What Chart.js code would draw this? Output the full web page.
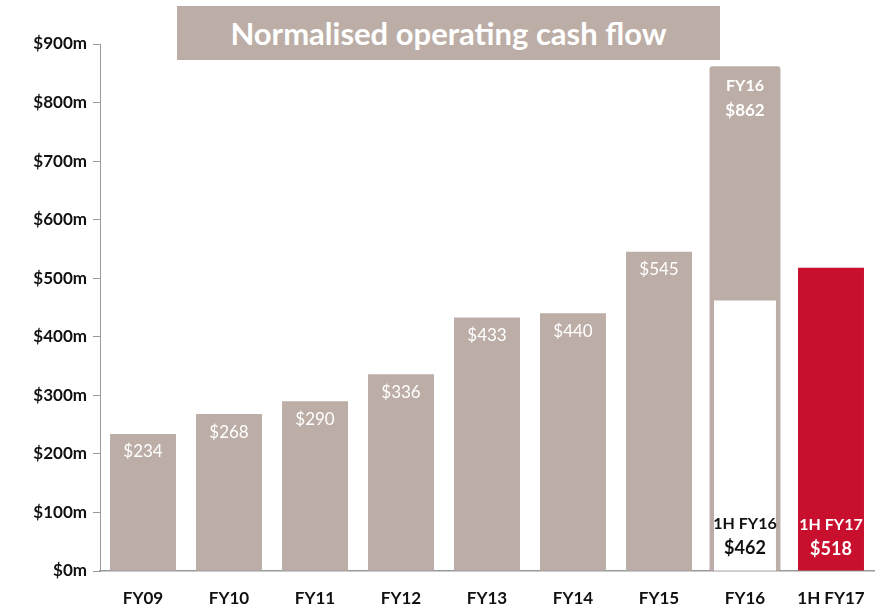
<!DOCTYPE html>
<html>
<head>
<meta charset="utf-8">
<script src="https://cdn.jsdelivr.net/npm/chart.js@4"></script>
<style>
  html, body { margin: 0; padding: 0; background: #fff; }
  .wrap { position: relative; width: 883px; height: 609px; }
  .title-box {
    position: absolute; left: 177px; top: 6px; width: 543px; height: 54px;
    background: #bcaea6; color: #fff; font: bold 31px Lato, sans-serif;
    display: flex; align-items: center; justify-content: center;
  }
</style>
</head>
<body>
<div class="wrap">
  <canvas id="cashChart" width="883" height="609"></canvas>
  <div class="title-box">Normalised operating cash flow</div>
</div>
<script>
// Normalised operating cash flow ($m)
const categories = ['FY09', 'FY10', 'FY11', 'FY12', 'FY13', 'FY14', 'FY15', 'FY16', '1H FY17'];
const annualValues = [234, 268, 290, 336, 433, 440, 545, null, 518];
const fy16Full = [null, null, null, null, null, null, null, 862, null];
const fy16Half = [null, null, null, null, null, null, null, 462, null];
const yTicks = [0, 100, 200, 300, 400, 500, 600, 700, 800, 900];

const GREY = '#bcaea6';
const RED = '#c8102e';
const FONT = 'Lato, sans-serif';

// bar labels drawn on top of the bars
const barLabels = {
  id: 'barLabels',
  afterDatasetsDraw(chart) {
    const ctx = chart.ctx;
    const bottom = chart.chartArea.bottom;
    ctx.save();
    ctx.textAlign = 'center';
    ctx.textBaseline = 'middle';

    // annual bars
    chart.getDatasetMeta(2).data.forEach((bar, i) => {
      const v = annualValues[i];
      if (v == null) return;
      if (categories[i] === '1H FY17') {
        ctx.fillStyle = '#fff';
        ctx.font = 'bold 16px ' + FONT;
        ctx.fillText('1H FY17', bar.x, bottom - 46);
        ctx.font = 'bold 18px ' + FONT;
        ctx.fillText('$' + v, bar.x, bottom - 22);
      } else {
        ctx.fillStyle = '#fff';
        ctx.font = '17px ' + FONT;
        ctx.fillText('$' + v, bar.x, bar.y + 18);
      }
    });

    // FY16 full year
    chart.getDatasetMeta(1).data.forEach((bar, i) => {
      if (fy16Full[i] == null) return;
      ctx.fillStyle = '#fff';
      ctx.font = 'bold 16px ' + FONT;
      ctx.fillText('FY16', bar.x, bar.y + 20);
      ctx.font = 'bold 17px ' + FONT;
      ctx.fillText('$' + fy16Full[i], bar.x, bar.y + 44);
    });

    // FY16 first half
    chart.getDatasetMeta(0).data.forEach((bar, i) => {
      if (fy16Half[i] == null) return;
      ctx.fillStyle = '#111';
      ctx.font = 'bold 16px ' + FONT;
      ctx.fillText('1H FY16', bar.x, bottom - 47);
      ctx.font = 'bold 18px ' + FONT;
      ctx.fillText('$' + fy16Half[i], bar.x, bottom - 23);
    });
    ctx.restore();
  }
};

new Chart(document.getElementById('cashChart'), {
  type: 'bar',
  data: {
    labels: categories,
    datasets: [
      {
        label: '1H FY16',
        data: fy16Half,
        backgroundColor: '#fff',
        grouped: false,
        categoryPercentage: 1,
        barPercentage: 0.72
      },
      {
        label: 'FY16',
        data: fy16Full,
        backgroundColor: GREY,
        borderRadius: { topLeft: 3, topRight: 3 },
        borderSkipped: false,
        grouped: false,
        categoryPercentage: 1,
        barPercentage: 0.825
      },
      {
        label: 'Annual',
        data: annualValues,
        backgroundColor: categories.map(c => c === '1H FY17' ? RED : GREY),
        grouped: false,
        categoryPercentage: 1,
        barPercentage: 0.767
      }
    ]
  },
  options: {
    responsive: false,
    animation: false,
    layout: { padding: { top: 44, right: 9, left: 0, bottom: 0 } },
    plugins: {
      legend: { display: false },
      tooltip: { enabled: false }
    },
    scales: {
      x: {
        grid: { display: false },
        border: { color: '#9a9a9a', width: 1.5 },
        ticks: {
          color: '#111',
          font: { family: FONT, size: 17, weight: 'bold' },
          padding: 9
        },
        afterFit: s => { s.height = 38; }
      },
      y: {
        min: 0,
        max: 900,
        afterBuildTicks: s => { s.ticks = yTicks.map(v => ({ value: v })); },
        grid: { drawOnChartArea: false, color: '#9a9a9a', tickLength: 7 },
        border: { color: '#9a9a9a', width: 1 },
        ticks: {
          color: '#111',
          font: { family: FONT, size: 17, weight: 'bold' },
          padding: 6,
          callback: v => '$' + v + 'm'
        },
        afterFit: s => { s.width = 100; }
      }
    }
  },
  plugins: [barLabels]
});
</script>
</body>
</html>
